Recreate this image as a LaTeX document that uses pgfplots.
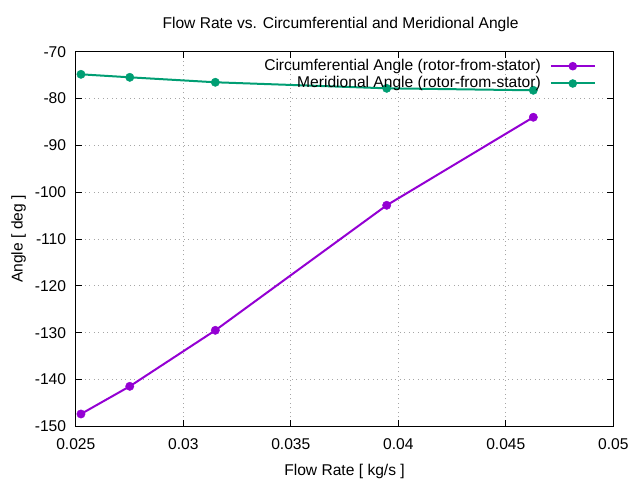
\documentclass[border=0pt]{standalone}
\usepackage{fontspec}
\setmainfont{Liberation Sans}
\usepackage{pgfplots}
\pgfplotsset{compat=1.18}
\definecolor{gpviolet}{HTML}{9400D3}
\definecolor{gpgreen}{HTML}{009E73}
\begin{document}
\begin{tikzpicture}
\path[use as bounding box] (0,0) rectangle (640bp,480bp);
\begin{axis}[
  at={(75.8bp,53.7bp)}, anchor=south west,
  scale only axis, width=537.5bp, height=374.6bp,
  xmin=0.025, xmax=0.05, ymin=-150, ymax=-70,
  xtick={0.025,0.03,0.035,0.04,0.045,0.05},
  xticklabels={0.025,0.03,0.035,0.04,0.045,0.05},
  ytick={-150,-140,-130,-120,-110,-100,-90,-80,-70},
  yticklabels={-150,-140,-130,-120,-110,-100,-90,-80,-70},
  scaled x ticks=false,
  tick align=inside, major tick length=6bp,
  tick style={black, line width=0.8bp},
  axis line style={black, line width=0.9bp},
  font=\fontsize{15.6bp}{18bp}\selectfont,
  xticklabel style={inner sep=0pt, anchor=north, yshift=-11.7bp},
  yticklabel style={inner sep=0pt, anchor=east, xshift=-9.5bp},
  grid=major,
  grid style={gray!70, line width=0.7bp, dash pattern=on 1bp off 3.5bp},
  title={Flow Rate vs. Circumferential and Meridional Angle},
  title style={at={(axis description cs:0.4926,1.0473)}, anchor=base, inner sep=0pt},
  xlabel={Flow Rate [ kg/s ]},
  xlabel style={at={(axis description cs:0.5,-0.1308)}, anchor=base, inner sep=0pt},
  ylabel={Angle [ deg ]},
  ylabel style={at={(axis description cs:-0.0988,0.5)}, anchor=base, inner sep=0pt, rotate=0},
  legend cell align=right,
  legend plot pos=right,
  legend style={draw=none, fill=none, at={(rel axis cs:1,1)}, anchor=north east,
    xshift=-17.3bp, yshift=-6.8bp, inner sep=0pt, column sep=9bp, row sep=2.3bp,
    nodes={inner sep=0pt, text height=11.5bp, text depth=3.5bp}},
  legend image code/.code={
    \draw[#1, mark=none, line width=2bp] (0bp,0bp) -- (44bp,0bp);
    \fill[#1, draw=none, mark=none] (22bp,0bp) circle (4.3bp);
  },
]
\addplot[gpviolet, line width=2bp, mark=*, mark size=4.2bp, mark options={solid, fill=gpviolet, draw=gpviolet, line width=0.4bp}]
  coordinates {(0.02524,-147.37) (0.02751,-141.46) (0.03149,-129.5) (0.03946,-102.8) (0.04628,-84.0)};
\addlegendentry{Circumferential Angle (rotor-from-stator)}
\addplot[gpgreen, line width=2bp, mark=*, mark size=4.2bp, mark options={solid, fill=gpgreen, draw=gpgreen, line width=0.4bp}]
  coordinates {(0.02524,-74.83) (0.02751,-75.47) (0.03149,-76.53) (0.03946,-77.82) (0.04628,-78.24)};
\addlegendentry{Meridional Angle (rotor-from-stator)}
\end{axis}
\end{tikzpicture}
\end{document}
